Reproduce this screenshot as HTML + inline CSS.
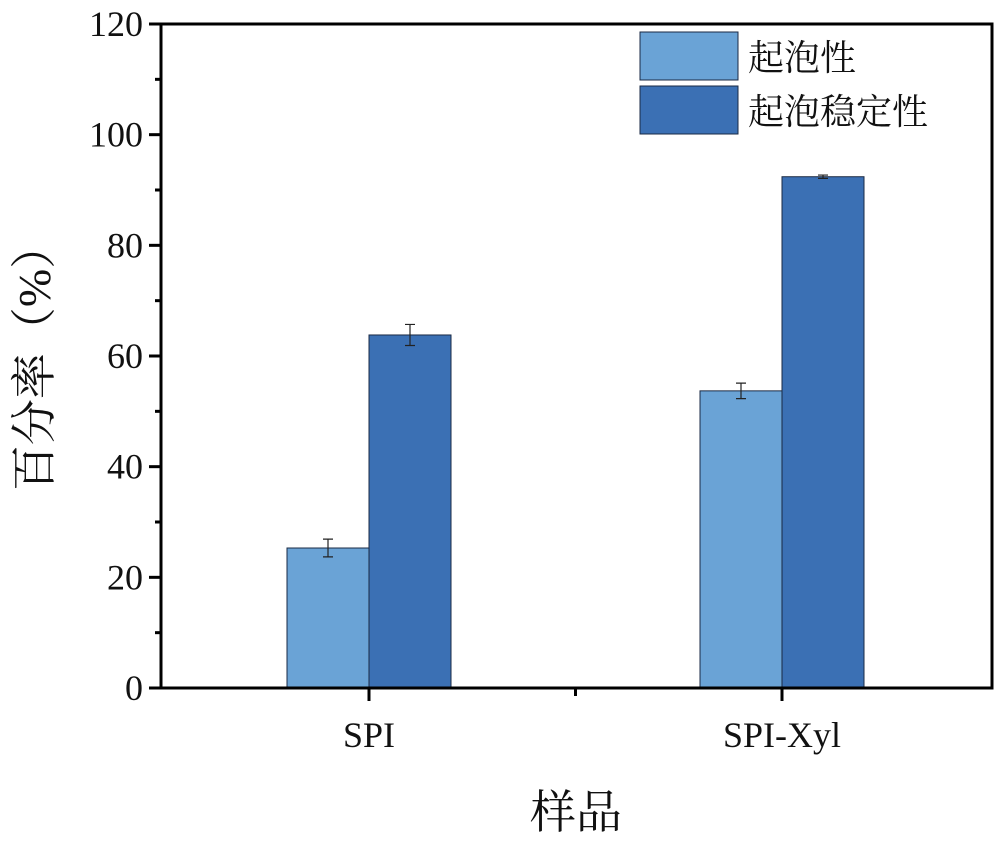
<!DOCTYPE html>
<html><head><meta charset="utf-8"><style>
body{margin:0;background:#fff}
svg{display:block}
text{font-family:"Liberation Serif","Noto Serif CJK SC",serif;fill:#111}
</style></head><body>
<svg id="chart" width="1000" height="841">
<g id="plot"></g>
</svg>
<script>
const categories=["SPI","SPI-Xyl"];
const foamCapacity=[25.3,53.7];
const foamCapacityErr=[1.6,1.4];
const foamStability=[63.8,92.4];
const foamStabilityErr=[1.9,0.3];
const yTicks=[0,20,40,60,80,100,120];
const seriesNames=["起泡性","起泡稳定性"];

const NS="http://www.w3.org/2000/svg";
const g=document.getElementById('plot');
const L=161,R=992,T=24,B=688;
const y=v=>B-(v/120)*(B-T);
const catX=i=>369+i*413;
const barW=82;
function el(tag,attrs,txt){const e=document.createElementNS(NS,tag);for(const k in attrs)e.setAttribute(k,attrs[k]);if(txt!==undefined)e.textContent=txt;g.appendChild(e);return e;}

const colors=["#6aa3d6","#3b70b4"];
const series=[foamCapacity,foamStability];
const errs=[foamCapacityErr,foamStabilityErr];
categories.forEach((c,i)=>{
  series.forEach((s,j)=>{
    const x=catX(i)+(j-1)*barW;
    const r=el('rect',{x:x,y:y(s[i]),width:barW,height:B-y(s[i]),fill:colors[j],stroke:'#1a2a44','stroke-width':1});
    
    
    const cx=x+barW/2,e=errs[j][i];
    const eb=el('path',{d:`M${cx} ${y(s[i]+e)}V${y(s[i]-e)}M${cx-5} ${y(s[i]+e)}H${cx+5}M${cx-5} ${y(s[i]-e)}H${cx+5}`,stroke:'#222','stroke-width':1.2,fill:'none'});
    
    
  });
  const t=el('path',{d:`M${catX(i)} ${B}V${B+13}`,stroke:'#000','stroke-width':3});
  
  
  const lab=el('text',{x:catX(i),y:B+59,'text-anchor':'middle','font-size':36},c);
  
  
});
const mt=el('path',{d:`M${(catX(0)+catX(1))/2} ${B}V${B+8}`,stroke:'#000','stroke-width':3});


yTicks.forEach((v,k)=>{
  const t=el('path',{d:`M${L-12} ${y(v)}H${L}`,stroke:'#000','stroke-width':3});
  
  
  if(k<yTicks.length-1){const m=el('path',{d:`M${L-6} ${y(v+10)}H${L}`,stroke:'#000','stroke-width':3});
  
  }
  const lab=el('text',{x:L-18,y:y(v)+12,'text-anchor':'end','font-size':36},String(v));
  
  
});
const frame=el('rect',{x:L,y:T,width:R-L,height:B-T,fill:'none',stroke:'#000','stroke-width':3});


seriesNames.forEach((n,j)=>{
  const r=el('rect',{x:640,y:32+j*54,width:98,height:48,fill:colors[j],stroke:'#1a2a44','stroke-width':1});
  
  
  const t=el('text',{x:748,y:70+j*54,'font-size':36},n);
  
  
});
const yt=el('text',{x:0,y:0,'font-size':46,'text-anchor':'middle',transform:'translate(50,357) rotate(-90)'},'百分率（%）');


const xt=el('text',{x:576,y:828,'font-size':46,'text-anchor':'middle'},'样品');


</script>
</body></html>
